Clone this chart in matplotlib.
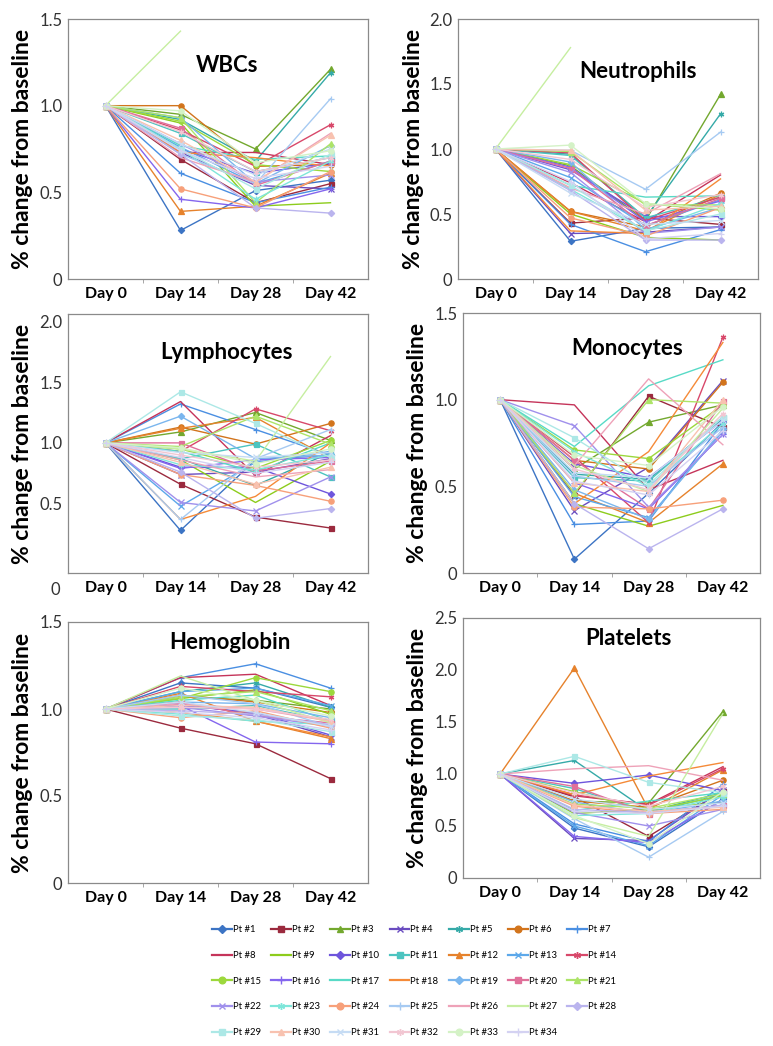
import numpy as np
import matplotlib
matplotlib.use("Agg")
import matplotlib.pyplot as plt
from matplotlib.lines import Line2D

plt.rcParams['font.family'] = ['Lato', 'DejaVu Sans']

days = ["Day 0", "Day 14", "Day 28", "Day 42"]
patients = [f"Pt #{i}" for i in range(1, 35)]
nan = np.nan

wbc = [
    [1, 0.28, 0.51, 0.57], [1, 0.69, 0.44, 0.55], [1, 0.95, 0.75, 1.21], [1, 0.73, 0.54, 0.52],
    [1, 0.92, 0.68, 1.19], [1, 1.00, 0.65, 0.66], [1, 0.61, 0.44, 0.53], [1, 0.73, 0.73, 0.66],
    [1, 0.90, 0.42, 0.44], [1, 0.75, 0.61, 0.67], [1, 0.84, 0.62, 0.70], [1, 0.39, 0.42, 0.61],
    [1, 0.76, 0.55, 0.68], [1, 0.86, 0.65, 0.89], [1, 0.91, 0.66, 0.62], [1, 0.46, 0.41, 0.52],
    [1, 0.77, 0.69, 0.71], [1, 0.73, 0.70, 0.65], [1, 0.93, 0.55, 0.77], [1, 0.87, 0.54, 0.68],
    [1, 0.93, 0.44, 0.78], [1, 0.78, 0.56, 0.60], [1, 0.75, 0.46, 0.68], [1, 0.52, 0.41, 0.62],
    [1, 0.72, 0.55, 1.04], [1, 0.70, 0.56, 0.84], [1, 1.43, nan, nan], [1, 0.72, 0.41, 0.38],
    [1, 0.75, 0.52, 0.72], [1, 0.80, 0.56, 0.83], [1, 0.78, 0.60, 0.75], [1, 0.85, 0.62, 0.70],
    [1, 0.97, 0.67, 0.74], [1, 0.74, 0.58, 0.65],
]
neutrophils = [
    [1, 0.29, 0.39, 0.40], [1, 0.43, 0.47, 0.42], [1, 0.87, 0.45, 1.42], [1, 0.35, 0.36, 0.40],
    [1, 0.96, 0.47, 1.27], [1, 0.52, 0.40, 0.66], [1, 0.42, 0.21, 0.38], [1, 0.74, 0.44, 0.80],
    [1, 0.50, 0.32, 0.30], [1, 0.84, 0.48, 0.48], [1, 0.95, 0.47, 0.63], [1, 0.52, 0.37, 0.65],
    [1, 0.78, 0.41, 0.61], [1, 0.97, 0.45, 0.63], [1, 0.88, 0.58, 0.53], [1, 0.86, 0.44, 0.60],
    [1, 0.72, 0.63, 0.64], [1, 0.37, 0.35, 0.77], [1, 0.90, 0.38, 0.55], [1, 0.85, 0.41, 0.62],
    [1, 0.98, 0.57, 0.57], [1, 0.82, 0.35, 0.40], [1, 0.69, 0.37, 0.58], [1, 0.47, 0.33, 0.55],
    [1, 0.99, 0.69, 1.13], [1, 0.70, 0.50, 0.81], [1, 1.78, nan, nan], [1, 0.68, 0.30, 0.30],
    [1, 0.72, 0.37, 0.50], [1, 0.99, 0.53, 0.56], [1, 0.66, 0.42, 0.45], [1, 0.92, 0.55, 0.65],
    [1, 1.03, 0.58, 0.54], [1, 0.75, 0.31, 0.35],
]
lymphocytes = [
    [1, 0.28, 0.86, 0.90], [1, 0.66, 0.39, 0.30], [1, 1.09, 1.25, 1.02], [1, 0.74, 0.76, 0.87],
    [1, 0.87, 0.65, 0.92], [1, 1.13, 0.99, 1.16], [1, 1.32, 1.11, 0.90], [1, 1.34, 0.73, 1.06],
    [1, 0.86, 0.51, 0.85], [1, 0.80, 0.80, 0.58], [1, 0.87, 0.99, 0.72], [1, 1.12, 1.21, 0.87],
    [1, 0.48, 0.84, 0.93], [1, 0.93, 1.28, 1.10], [1, 0.95, 0.79, 1.02], [1, 0.79, 0.86, 0.88],
    [1, 0.93, 0.76, 1.00], [1, 0.37, 0.56, 1.00], [1, 1.22, 0.87, 0.90], [1, 1.00, 0.77, 0.85],
    [1, 0.97, 1.22, 0.99], [1, 0.51, 0.44, 0.72], [1, 0.82, 0.78, 0.90], [1, 0.74, 0.65, 0.52],
    [1, 0.37, 0.87, 1.11], [1, 0.86, 0.72, 0.78], [1, 0.95, 0.85, 1.71], [1, 0.76, 0.38, 0.46],
    [1, 1.42, 1.16, 0.88], [1, 0.84, 0.66, 0.80], [1, 0.92, 0.88, 0.92], [1, 0.90, 0.80, 0.86],
    [1, 0.96, 0.83, 0.95], [1, 0.88, 0.75, 0.84],
]
monocytes = [
    [1, 0.08, 0.46, 0.87], [1, 0.45, 1.02, 0.84], [1, 0.60, 0.87, 0.97], [1, 0.36, 0.61, 1.11],
    [1, 0.57, 0.54, 0.89], [1, 0.65, 0.60, 1.10], [1, 0.28, 0.30, 0.87], [1, 0.97, 0.48, 0.65],
    [1, 0.40, 0.27, 0.39], [1, 0.63, 0.55, 0.88], [1, 0.55, 0.53, 0.90], [1, 0.46, 0.29, 0.63],
    [1, 0.44, 0.32, 0.82], [1, 0.67, 0.29, 1.36], [1, 0.71, 0.66, 0.97], [1, 0.52, 0.37, 0.80],
    [1, 0.73, 1.08, 1.23], [1, 0.40, 0.70, 1.33], [1, 0.48, 0.31, 0.83], [1, 0.65, 0.37, 0.99],
    [1, 0.46, 1.00, 0.98], [1, 0.85, 0.38, 0.80], [1, 0.70, 0.50, 0.86], [1, 0.38, 0.37, 0.42],
    [1, 0.56, 0.50, 0.84], [1, 0.62, 1.12, 0.74], [1, 0.62, 0.47, 0.95], [1, 0.40, 0.14, 0.37],
    [1, 0.78, 0.51, 0.90], [1, 0.52, 0.47, 1.00], [1, 0.58, 0.55, 0.88], [1, 0.60, 0.48, 0.92],
    [1, 0.68, 0.62, 0.96], [1, 0.53, 0.45, 0.82],
]
hemoglobin = [
    [1, 1.15, 1.12, 1.01], [1, 0.89, 0.80, 0.60], [1, 1.07, 1.05, 1.00], [1, 1.03, 0.97, 0.84],
    [1, 1.10, 1.15, 1.01], [1, 1.08, 1.04, 0.98], [1, 1.18, 1.26, 1.12], [1, 1.18, 1.20, 1.02],
    [1, 1.06, 1.11, 0.97], [1, 1.02, 0.98, 0.85], [1, 1.00, 1.02, 0.93], [1, 1.09, 0.93, 0.83],
    [1, 1.10, 1.12, 1.02], [1, 1.13, 1.10, 1.07], [1, 1.06, 1.18, 1.10], [1, 1.02, 0.81, 0.80],
    [1, 1.05, 1.08, 0.93], [1, 0.98, 0.93, 0.84], [1, 1.04, 1.03, 0.95], [1, 1.04, 0.96, 0.92],
    [1, 1.07, 1.10, 0.99], [1, 1.01, 0.96, 0.90], [1, 0.97, 0.93, 0.91], [1, 0.95, 0.99, 0.89],
    [1, 1.08, 1.03, 0.90], [1, 1.03, 1.00, 0.93], [1, 1.19, 1.05, 0.92], [1, 0.99, 0.97, 0.91],
    [1, 0.96, 0.94, 0.87], [1, 1.02, 1.01, 0.93], [1, 1.04, 0.98, 0.90], [1, 1.01, 1.00, 0.94],
    [1, 1.12, 1.05, 0.96], [1, 0.98, 0.95, 0.88],
]
platelets = [
    [1, 0.48, 0.30, 0.76], [1, 0.78, 0.40, 0.84], [1, 0.74, 0.72, 1.60], [1, 0.38, 0.36, 0.85],
    [1, 1.13, 0.64, 0.82], [1, 0.74, 0.68, 0.94], [1, 0.52, 0.35, 0.90], [1, 0.79, 0.71, 1.07],
    [1, 0.62, 0.66, 0.73], [1, 0.91, 0.99, 0.84], [1, 0.86, 0.63, 0.80], [1, 2.02, 0.66, 1.04],
    [1, 0.50, 0.31, 0.80], [1, 0.80, 0.70, 1.05], [1, 0.83, 0.65, 0.79], [1, 0.40, 0.34, 0.75],
    [1, 0.65, 0.74, 0.82], [1, 0.80, 0.98, 1.11], [1, 0.73, 0.62, 0.74], [1, 0.88, 0.62, 0.70],
    [1, 0.71, 0.67, 0.81], [1, 0.63, 0.50, 0.66], [1, 0.60, 0.62, 0.78], [1, 0.69, 0.62, 0.66],
    [1, 0.57, 0.20, 0.64], [1, 1.05, 1.08, 0.94], [1, 0.58, 0.40, 1.58], [1, 0.66, 0.63, 0.70],
    [1, 1.17, 0.92, 0.82], [1, 0.70, 0.64, 0.68], [1, 0.76, 0.66, 0.72], [1, 0.82, 0.69, 0.88],
    [1, 0.60, 0.33, 0.83], [1, 0.64, 0.62, 0.69],
]

colors = [
    "#3c74c4", "#9b2a3e", "#73a82e", "#6a4cc0", "#35aaa8", "#d2741c", "#4a8fe2",
    "#c5345a", "#8dcc1c", "#6e55dc", "#4cc4c0", "#e6822c", "#5ca8ea", "#d8486a",
    "#9cd83c", "#8466ee", "#58dac6", "#f58a38", "#7ab6ee", "#e0709a", "#ade468",
    "#a090ec", "#7ee6da", "#f7a07a", "#a6caf2", "#eea2b8", "#c6eea0", "#bab4ee",
    "#ace8e6", "#f8c2b0", "#c6dcf4", "#f2c6d2", "#d4f2c6", "#d4d2f2",
]
marker_cycle = ['D', 's', '^', 'x', (6, 2, 0), 'o', '+', None, None]
msizes = {'D': 3.2, 's': 3.6, '^': 4, 'x': 4, 'o': 3.8, '+': 5}

panels = [
    ("WBCs", wbc, [68, 19, 300, 260], 1.5, [0, 0.5, 1.0, 1.5], (0.53, 0.823), 33),
    ("Neutrophils", neutrophils, [458, 19, 300, 260], 2.0, [0, 0.5, 1.0, 1.5, 2.0], (0.60, 0.80), 424),
    ("Lymphocytes", lymphocytes, [68, 314, 300, 259], None, [0.5, 1.0, 1.5, 2.0], (0.53, 0.853), 33),
    ("Monocytes", monocytes, [463, 313, 297, 260], 1.5, [0, 0.5, 1.0, 1.5], (0.553, 0.865), 428),
    ("Hemoglobin", hemoglobin, [68, 622, 300, 261], 1.5, [0, 0.5, 1.0, 1.5], (0.54, 0.92), 33),
    ("Platelets", platelets, [463, 618, 297, 260], 2.5, [0, 0.5, 1.0, 1.5, 2.0, 2.5], (0.556, 0.92), 428),
]

W, H = 773, 1046
fig = plt.figure(figsize=(W / 100, H / 100), dpi=100)
x = np.arange(len(days))

for title, data, (l, t, w, h), ymax, ticks, tpos, ylab_right in panels:
    ax = fig.add_axes([l / W, 1 - (t + h) / H, w / W, h / H])
    for i, vals in enumerate(data):
        m = marker_cycle[i % 9]
        ax.plot(x, vals, color=colors[i], lw=1.0, marker=m,
                ms=msizes.get(m, 4) if m is not None else 0, mew=0.9)
    ax.set_xlim(-0.5, 3.5)
    if ymax is None:
        ax.set_ylim(-0.07, 2.06)
        fig.text(60 / W, 1 - 590 / H, "0", fontsize=12, color="#333333",
                 ha="right", va="center")
    else:
        ax.set_ylim(0, ymax)
    ax.set_yticks(ticks)
    ax.set_yticklabels(["0" if v == 0 else f"{v:.1f}" for v in ticks])
    ax.set_xticks(x)
    ax.set_xticklabels(days, fontweight="bold", fontsize=11.5)
    ax.set_xticks([0.5, 1.5, 2.5], minor=True)
    ax.tick_params(axis="x", which="major", length=0, pad=6)
    ax.tick_params(axis="x", which="minor", length=3, color="#999999")
    ax.tick_params(axis="y", length=0, labelsize=12, labelcolor="#333333", pad=4)
    for s in ax.spines.values():
        s.set_color("#8a8a8a")
        s.set_linewidth(0.9)
    ax.text(tpos[0], tpos[1], title, transform=ax.transAxes, ha="center", va="center",
            fontsize=16, fontweight="bold")
    ax.set_ylabel("% change from baseline", fontsize=16.5, fontweight="bold")
    ax.yaxis.set_label_coords((ylab_right - l) / w, 0.5)

# reorder so that the column-major legend reads row by row
ncol = 7
order = []
for c in range(ncol):
    order.extend(range(c, len(patients), ncol))
handles = []
labels = []
for i in order:
    m = marker_cycle[i % 9]
    handles.append(Line2D([0], [0], color=colors[i], lw=1.6, marker=m,
                          ms=(msizes.get(m, 4) + 1) if m is not None else 0, mew=1.0))
    labels.append(patients[i])
fig.legend(handles, labels, ncol=ncol, loc="upper left",
           bbox_to_anchor=(212 / W, 1 - 925 / H), frameon=False, fontsize=6.8,
           handlelength=2.1, handletextpad=0.1, columnspacing=1.1, labelspacing=1.78,
           borderpad=0, borderaxespad=0)

fig.savefig("out.png", dpi=100)
